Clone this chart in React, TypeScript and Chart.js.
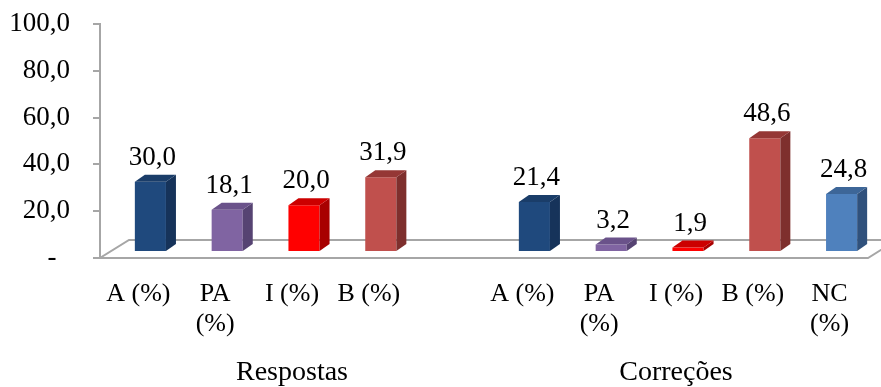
import React, { useEffect, useRef } from "react";
import { Chart, registerables } from "chart.js";

Chart.register(...registerables);

// Category tick labels (one array of lines per slot)
const tickLabels: string[][] = [
  ["A (%)"], ["PA", "(%)"], ["I (%)"], ["B (%)"], [""],
  ["A (%)"], ["PA", "(%)"], ["I (%)"], ["B (%)"], ["NC", "(%)"],
];
const groupNames = ["Respostas", "Correções"];
const groupSize = 5;

// Percentages per group (A, PA, I, B, NC)
const respostas: (number | null)[] = [30.0, 18.1, 20.0, 31.9, null];
const correcoes: (number | null)[] = [21.4, 3.2, 1.9, 48.6, 24.8];

// Face colours per answer type: front, side, top
const frontColors = ["#1F497D", "#8064A2", "#FF0000", "#C0504D", "#4F81BD"];
const sideColors = ["#16335A", "#564372", "#A80000", "#7E2F2D", "#30517C"];
const topColors = ["#1A3D69", "#6A528A", "#CC0000", "#953735", "#3D6698"];

const FONT = "'Liberation Serif', 'Times New Roman', serif";
const AXIS_GRAY = "#A6A6A6";

// 3D projection offsets
const BAR_SHIFT_X = 12;
const BAR_SHIFT_Y = -6;
const DEPTH_X = 10;
const DEPTH_Y = -7;
const FLOOR_X = 29;
const FLOOR_Y = -18;

const values = [...respostas, ...correcoes];
const colorIdx = values.map((_, i) => i % groupSize);

const fmt = (v: number) => v.toFixed(1).replace(".", ",");

const bars3d = {
  id: "bars3d",
  beforeDatasetsDraw(chart: any) {
    const { ctx } = chart;
    const x = chart.scales.x;
    const y = chart.scales.y;
    const y0 = y.getPixelForValue(0);
    // floor
    ctx.save();
    ctx.beginPath();
    ctx.moveTo(x.left, y0);
    ctx.lineTo(x.right, y0);
    ctx.lineTo(x.right + FLOOR_X, y0 + FLOOR_Y);
    ctx.lineTo(x.left + FLOOR_X, y0 + FLOOR_Y);
    ctx.closePath();
    ctx.fillStyle = "#FFFFFF";
    ctx.fill();
    ctx.strokeStyle = AXIS_GRAY;
    ctx.lineWidth = 2;
    ctx.stroke();
    ctx.restore();
    // shift bars onto the middle of the floor
    ctx.save();
    ctx.translate(BAR_SHIFT_X, BAR_SHIFT_Y);
  },
  afterDatasetsDraw(chart: any) {
    const { ctx } = chart;
    const meta = chart.getDatasetMeta(0);
    meta.data.forEach((bar: any, i: number) => {
      const v = values[i];
      if (v == null) return;
      const { x, y, base, width } = bar.getProps(["x", "y", "base", "width"], true);
      const l = x - width / 2;
      const r = x + width / 2;
      const c = colorIdx[i];
      // side face
      ctx.beginPath();
      ctx.moveTo(r, y);
      ctx.lineTo(r + DEPTH_X, y + DEPTH_Y);
      ctx.lineTo(r + DEPTH_X, base + DEPTH_Y);
      ctx.lineTo(r, base);
      ctx.closePath();
      ctx.fillStyle = sideColors[c];
      ctx.fill();
      // top face
      ctx.beginPath();
      ctx.moveTo(l, y);
      ctx.lineTo(l + DEPTH_X, y + DEPTH_Y);
      ctx.lineTo(r + DEPTH_X, y + DEPTH_Y);
      ctx.lineTo(r, y);
      ctx.closePath();
      ctx.fillStyle = topColors[c];
      ctx.fill();
      // value label
      ctx.fillStyle = "#000000";
      ctx.font = `27px ${FONT}`;
      ctx.textAlign = "center";
      ctx.textBaseline = "alphabetic";
      ctx.fillText(fmt(v), x + 2, y - 17);
    });
    ctx.restore();
  },
  afterDraw(chart: any) {
    const { ctx } = chart;
    const x = chart.scales.x;
    ctx.save();
    ctx.fillStyle = "#000000";
    ctx.font = `28px ${FONT}`;
    ctx.textAlign = "center";
    ctx.textBaseline = "middle";
    groupNames.forEach((name, g) => {
      const mid = g * groupSize + Math.floor(groupSize / 2);
      ctx.fillText(name, x.getPixelForTick(mid), 373);
    });
    ctx.restore();
  },
};

export default function App() {
  const ref = useRef<HTMLCanvasElement | null>(null);

  useEffect(() => {
    if (!ref.current) return;
    const chart = new Chart(ref.current, {
      type: "bar",
      data: {
        labels: tickLabels,
        datasets: [
          {
            data: values,
            backgroundColor: colorIdx.map((c) => frontColors[c]),
            categoryPercentage: 1,
            barPercentage: 0.405,
            clip: false as any,
          },
        ],
      },
      options: {
        animation: false,
        responsive: false,
        devicePixelRatio: 1,
        layout: { padding: { left: 0, right: 13, top: 24, bottom: 0 } },
        plugins: {
          legend: { display: false },
          tooltip: { enabled: false },
        },
        scales: {
          x: {
            grid: { display: false },
            border: { display: false },
            ticks: {
              color: "#000000",
              font: { family: FONT, size: 26, lineHeight: 1.15 },
              padding: 13,
              maxRotation: 0,
              autoSkip: false,
            },
            afterFit: (s: any) => {
              s.height = 129;
            },
          },
          y: {
            min: 0,
            max: 100,
            ticks: {
              stepSize: 20,
              color: "#000000",
              font: { family: FONT, size: 27 },
              padding: 23,
              callback: (v: any) => (Number(v) === 0 ? "-\u2002" : fmt(Number(v))),
            },
            grid: {
              drawOnChartArea: false,
              drawTicks: true,
              tickLength: 7,
              color: AXIS_GRAY,
              lineWidth: 2,
            },
            border: { display: true, color: AXIS_GRAY, width: 2 },
            afterFit: (s: any) => {
              s.width = 100;
              s.paddingTop = 0;
              s.paddingBottom = 0;
            },
          },
        },
      },
      plugins: [bars3d],
    });
    return () => chart.destroy();
  }, []);

  return (
    <div style={{ position: "fixed", left: 0, top: 0, width: 881, height: 387, background: "#FFFFFF" }}>
      <canvas ref={ref} width={881} height={387} />
    </div>
  );
}
